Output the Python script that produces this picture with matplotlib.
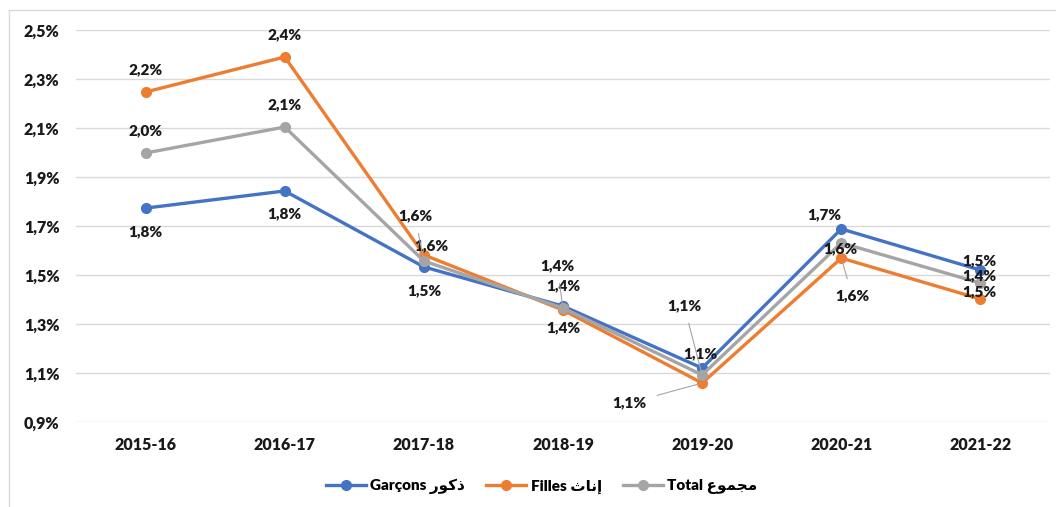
import matplotlib.pyplot as plt
from matplotlib.lines import Line2D

# données
annees = ["2015-16", "2016-17", "2017-18", "2018-19", "2019-20", "2020-21", "2021-22"]
garcons = [1.773, 1.843, 1.533, 1.373, 1.120, 1.688, 1.520]
filles = [2.247, 2.390, 1.582, 1.357, 1.059, 1.569, 1.402]
total = [1.998, 2.104, 1.557, 1.365, 1.092, 1.631, 1.467]

# légendes (arabe en formes de présentation, ordre visuel)
lbl_garcons = "Garçons " + "\uFEAD\uFEEE\uFEDB\uFEAB"
lbl_filles = "Filles " + "\uFE99\uFE8E\uFEE7\uFE87"
lbl_total = "Total " + "\uFEC9\uFEEE\uFEE4\uFEA0\uFEE3"

# décalages des étiquettes (pixels, y vers le bas)
off_g = [(0, 24), (0, 23), (0, 24), (0, 22), (-2, -14), (-17, -14), (-1, -9)]
off_f = [(0, -22), (0, -22), (7, -9), (0, -24), (-73, 20), (11, 38), (-1, -23)]
off_t = [(0, -22), (0, -22), (-9, -45), (-6, -42), (-18, -69), (-1, 6), (-1, 9)]
lead_f = [False, False, False, False, True, True, False]
lead_t = [False, False, True, True, True, False, False]

plt.rcParams['font.family'] = ['Lato', 'DejaVu Sans']
W = 'heavy'

fig = plt.figure(figsize=(10.56, 5.07), dpi=100)
ax = fig.add_axes([0.072, 0.1677, 0.9223, 0.7731])

x = list(range(len(annees)))
series = [
    (garcons, "#4472C4", lbl_garcons, off_g, [False] * 7),
    (filles, "#ED7D31", lbl_filles, off_f, lead_f),
    (total, "#A5A5A5", lbl_total, off_t, lead_t),
]

handles = []
for vals, col, lbl, offs, leads in series:
    ax.plot(x, vals, color=col, lw=2.4, marker='o', ms=7, zorder=3)
    handles.append(Line2D([], [], color=col, lw=2.4, marker='o', ms=7, label=lbl))
    for i, v in enumerate(vals):
        txt = f"{v:.1f}%".replace('.', ',')
        dx, dy = offs[i]
        kw = {}
        if leads[i]:
            kw['arrowprops'] = dict(arrowstyle='-', color='#A5A5A5', lw=0.8,
                                    shrinkA=6, shrinkB=3)
        ax.annotate(txt, (i, v), xytext=(dx * 0.72, -dy * 0.72),
                    textcoords='offset points', ha='center', va='center',
                    fontsize=11, fontweight=W, color='#1a1a1a',
                    zorder=5, **kw)

ax.set_xlim(-0.5, len(annees) - 0.5)
ax.set_ylim(0.9, 2.5)
yt = [0.9, 1.1, 1.3, 1.5, 1.7, 1.9, 2.1, 2.3, 2.5]
ax.set_yticks(yt)
ax.set_yticklabels([f"{v:.1f}%".replace('.', ',') for v in yt])
ax.set_xticks(x)
ax.set_xticklabels(annees)
ax.tick_params(length=0, labelsize=11.5, colors='#1a1a1a')
ax.tick_params(axis='y', pad=12)
ax.tick_params(axis='x', pad=11)
for lab in ax.get_xticklabels() + ax.get_yticklabels():
    lab.set_fontweight(W)
ax.grid(axis='y', color='#D9D9D9', lw=1)
ax.set_axisbelow(True)
for s in ax.spines.values():
    s.set_visible(False)

fig.legend(handles=handles, loc='center', bbox_to_anchor=(0.513, 0.04),
           ncol=3, frameon=False, handlelength=2.6,
           columnspacing=1.4, handletextpad=0.3,
           prop={'weight': W, 'size': 11})

# cadre du graphique
fig.add_artist(Line2D([9 / 1056, 9 / 1056], [0, 1 - 10 / 507], color='#D9D9D9', lw=1))
fig.add_artist(Line2D([9 / 1056, 1], [1 - 10 / 507, 1 - 10 / 507], color='#D9D9D9', lw=1))

fig.savefig("out.png", dpi=100)
